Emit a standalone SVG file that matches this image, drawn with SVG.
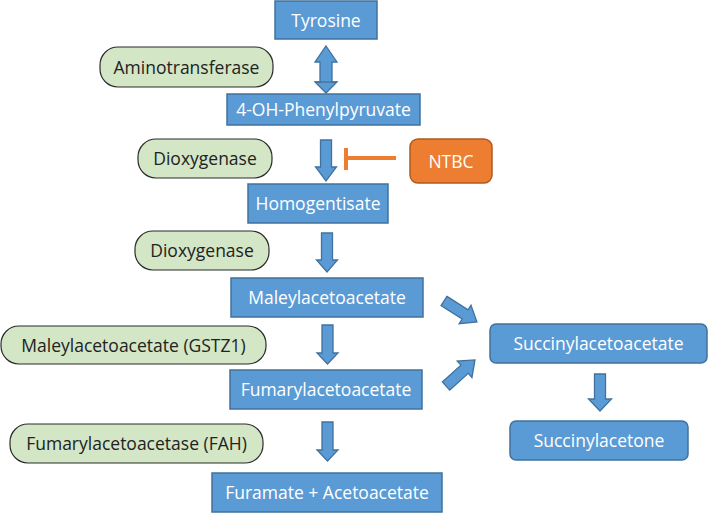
<svg xmlns="http://www.w3.org/2000/svg" width="709" height="513" viewBox="0 0 709 513">
<defs>
<style>
.blue{fill:#5B9BD5;stroke:#41719C;stroke-width:1.5}
.green{fill:#D3E6C5;stroke:#2B2B2B;stroke-width:1.2}
.orange{fill:#ED7D31;stroke:#AE5A21;stroke-width:1.5}
.arrow{fill:#5B9BD5;stroke:#41719C;stroke-width:1.3;stroke-linejoin:miter}
.wt{font-family:"Open Sans","Liberation Sans",sans-serif;font-size:17.5px;fill:#FFFFFF;text-anchor:middle}
.dt{font-family:"Open Sans","Liberation Sans",sans-serif;font-size:17.5px;fill:#222222;text-anchor:middle}
</style>
<path id="diag" d="M0,-5.5 H25 V-11 L39,0 L25,11 V5.5 H0 Z"/>
</defs>
<rect width="709" height="513" fill="#FFFFFF"/>

<g id="tyrosine"><rect class="blue" x="275" y="1" width="102" height="38"/><text class="wt" x="326" y="26.5">Tyrosine</text></g>
<g id="phenylpyruvate"><rect class="blue" x="227" y="94" width="193" height="31"/><text class="wt" x="323.5" y="116">4-OH-Phenylpyruvate</text></g>
<g id="homogentisate"><rect class="blue" x="248" y="184" width="140" height="39"/><text class="wt" x="318" y="210">Homogentisate</text></g>
<g id="maleylacetoacetate"><rect class="blue" x="231" y="278" width="192" height="39"/><text class="wt" x="327" y="304">Maleylacetoacetate</text></g>
<g id="fumarylacetoacetate"><rect class="blue" x="230" y="370" width="192" height="39"/><text class="wt" x="326" y="396">Fumarylacetoacetate</text></g>
<g id="furamate"><rect class="blue" x="212" y="473" width="230" height="39"/><text class="wt" x="327" y="499">Furamate + Acetoacetate</text></g>
<g id="succinylacetoacetate"><rect class="blue" x="490" y="324" width="217" height="39" rx="6"/><text class="wt" x="598.5" y="350">Succinylacetoacetate</text></g>
<g id="succinylacetone"><rect class="blue" x="510" y="421" width="178" height="39" rx="6"/><text class="wt" x="599" y="447">Succinylacetone</text></g>
<g id="ntbc"><rect class="orange" x="410" y="139" width="82" height="44" rx="8"/><text class="wt" x="451" y="167.5">NTBC</text></g>

<g id="aminotransferase"><rect class="green" x="100" y="47" width="173" height="40" rx="18"/><text class="dt" x="186.5" y="73.5">Aminotransferase</text></g>
<g id="dioxygenase1"><rect class="green" x="138" y="139" width="134" height="39" rx="18"/><text class="dt" x="205" y="165">Dioxygenase</text></g>
<g id="dioxygenase2"><rect class="green" x="135" y="231" width="134" height="39" rx="18"/><text class="dt" x="202" y="257">Dioxygenase</text></g>
<g id="gstz1"><rect class="green" x="1" y="326" width="265" height="38" rx="18"/><text class="dt" x="133.5" y="351.5">Maleylacetoacetate (GSTZ1)</text></g>
<g id="fah"><rect class="green" x="10" y="424" width="253" height="39" rx="18"/><text class="dt" x="136.5" y="450">Fumarylacetoacetase (FAH)</text></g>

<g id="connectors">
<path class="arrow" d="M326,46 L337,62 H332 V82 H337 L326,93 L315,82 H320 V62 H315 Z"/>
<line x1="315" y1="82" x2="337" y2="82" stroke="#41719C" stroke-width="1.3"/>
<path class="arrow" d="M320.5,140 H331.5 V167 H336.5 L326,181 L315.5,167 H320.5 Z"/>
<path class="arrow" d="M321.5,233 H332.5 V260 H337.5 L327,272 L316.5,260 H321.5 Z"/>
<path class="arrow" d="M322,325 H333 V353 H338 L327.5,364 L317,353 H322 Z"/>
<path class="arrow" d="M322,422 H333 V450 H338 L327.5,461 L317,450 H322 Z"/>
<path class="arrow" d="M594.5,374 H605.5 V399 H611.5 L600,411 L588.5,399 H594.5 Z"/>
<use href="#diag" class="arrow" transform="translate(444,301) rotate(32.5)"/>
<use href="#diag" class="arrow" transform="translate(446,386) rotate(-42)"/>
<g id="inhibition" stroke="#ED7D31" stroke-width="4" fill="none">
<line x1="346" y1="158" x2="396" y2="158"/>
<line x1="346" y1="148" x2="346" y2="170"/>
</g>
</g>
</svg>
